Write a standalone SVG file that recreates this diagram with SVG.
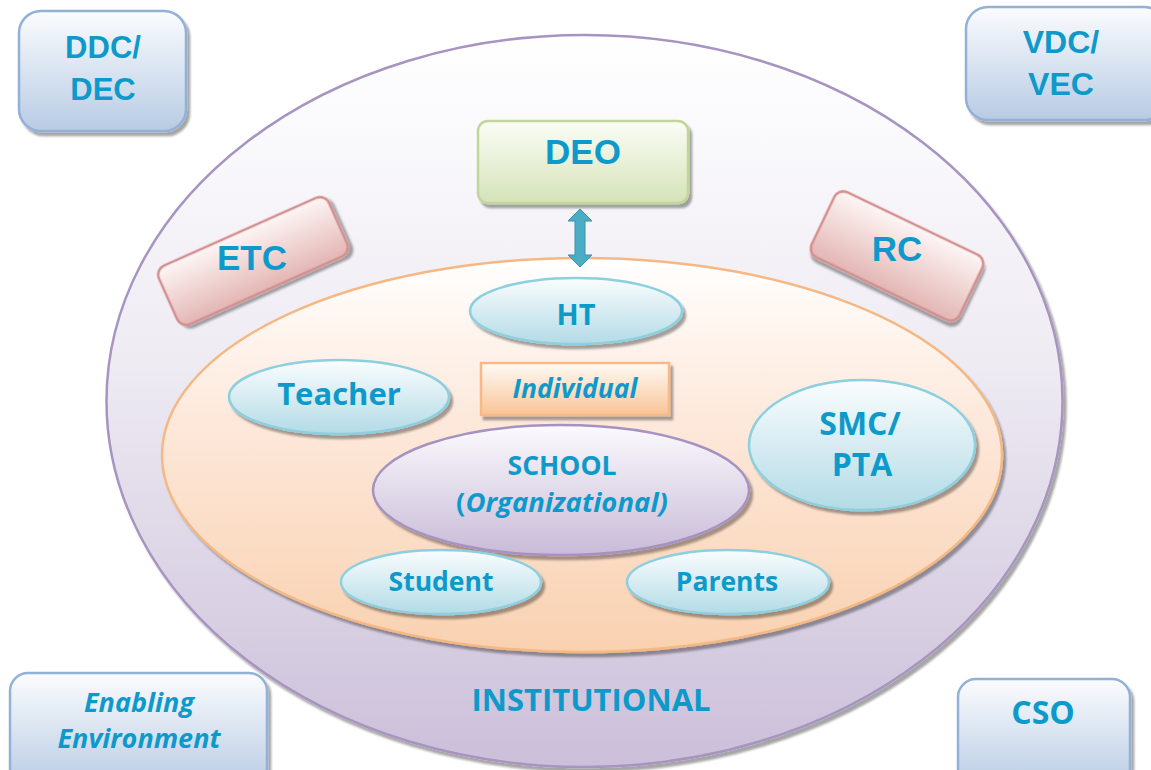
<svg xmlns="http://www.w3.org/2000/svg" width="1151" height="770" viewBox="0 0 1151 770">
<defs>
<linearGradient id="gOuter" x1="0" y1="0" x2="0" y2="1"><stop offset="0" stop-color="#ffffff"/><stop offset="0.45" stop-color="#eeebf3"/><stop offset="1" stop-color="#cbbfd9"/></linearGradient>
<linearGradient id="gInner" x1="0" y1="0" x2="0" y2="1"><stop offset="0" stop-color="#ffffff"/><stop offset="0.4" stop-color="#fde9dc"/><stop offset="1" stop-color="#f9d1b0"/></linearGradient>
<linearGradient id="gBlue" x1="0" y1="0" x2="0" y2="1"><stop offset="0" stop-color="#fbfcfe"/><stop offset="1" stop-color="#b8cbe4"/></linearGradient>
<linearGradient id="gGreen" x1="0" y1="0" x2="0" y2="1"><stop offset="0" stop-color="#fbfdf6"/><stop offset="1" stop-color="#d5e3b8"/></linearGradient>
<linearGradient id="gRed" x1="0" y1="0" x2="0" y2="1"><stop offset="0" stop-color="#fdf6f5"/><stop offset="1" stop-color="#e3b6b4"/></linearGradient>
<linearGradient id="gTeal" x1="0" y1="0" x2="0" y2="1"><stop offset="0" stop-color="#fafdfe"/><stop offset="1" stop-color="#b3dbe6"/></linearGradient>
<linearGradient id="gLav" x1="0" y1="0" x2="0" y2="1"><stop offset="0" stop-color="#fbfafd"/><stop offset="1" stop-color="#c9bbd8"/></linearGradient>
<linearGradient id="gOrange" x1="0" y1="0" x2="0" y2="1"><stop offset="0" stop-color="#fffaf6"/><stop offset="1" stop-color="#f9c496"/></linearGradient>
<filter id="sh" x="-10%" y="-10%" width="130%" height="130%"><feDropShadow dx="3" dy="4" stdDeviation="1" flood-color="#000" flood-opacity="0.35"/></filter>
</defs>
<style>
.t{font-family:"Open Sans","DejaVu Sans",sans-serif;font-weight:bold;fill:#0d9acb;text-anchor:middle}
.a{font-family:"Liberation Sans",Arial,sans-serif;font-weight:bold;fill:#0d9acb;text-anchor:middle}
.i{font-style:italic}
.blue{fill:url(#gBlue);stroke:#93b1d6;stroke-width:2.5}
.teal{fill:url(#gTeal);stroke:#8ccfdf;stroke-width:2.5}
.red{fill:url(#gRed);stroke:#d4908e;stroke-width:2.5}
</style>

<g id="institutional">
<ellipse cx="584.5" cy="401" rx="478" ry="366" fill="url(#gOuter)" stroke="#a794c0" stroke-width="2.5" filter="url(#sh)"/>
<text class="t" x="591" y="711" font-size="31">INSTITUTIONAL</text>
</g>
<g id="individual-area">
<ellipse cx="582" cy="455" rx="420" ry="197" fill="url(#gInner)" stroke="#f6b882" stroke-width="2.5" filter="url(#sh)"/>
</g>

<g id="ddc">
<rect x="19" y="11" width="167" height="120" rx="22" class="blue" filter="url(#sh)"/>
<text class="a" x="103" y="58" font-size="31">DDC/</text>
<text class="a" x="103" y="100" font-size="31">DEC</text>
</g>
<g id="vdc">
<rect x="966" y="7" width="200" height="113" rx="22" class="blue" filter="url(#sh)"/>
<text class="a" x="1061" y="53" font-size="32">VDC/</text>
<text class="a" x="1061" y="95" font-size="32">VEC</text>
</g>
<g id="enabling">
<rect x="10" y="673" width="257" height="115" rx="18" class="blue" filter="url(#sh)"/>
<text class="t i" x="139" y="712" font-size="27">Enabling</text>
<text class="t i" x="139" y="748" font-size="27">Environment</text>
</g>
<g id="cso">
<rect x="958" y="679" width="172" height="110" rx="18" class="blue" filter="url(#sh)"/>
<text class="t" x="1043" y="724" font-size="32">CSO</text>
</g>

<g id="deo">
<rect x="478" y="121" width="210" height="82" rx="10" fill="url(#gGreen)" stroke="#c2d69a" stroke-width="2.5" filter="url(#sh)"/>
<text class="a" x="583" y="164" font-size="35">DEO</text>
</g>
<g id="etc">
<rect x="-93" y="-32" width="186" height="64" rx="10" class="red" filter="url(#sh)" transform="translate(253,261) rotate(-24)"/>
<text class="a" x="252" y="270" font-size="35">ETC</text>
</g>
<g id="rc">
<rect x="-82" y="-36" width="164" height="72" rx="10" class="red" filter="url(#sh)" transform="translate(897,256) rotate(25.6)"/>
<text class="a" x="897" y="261" font-size="35">RC</text>
</g>

<g id="connectors">
<path d="M580,209 L592,221 L585,221 L585,255 L592,255 L580,267 L568,255 L575,255 L575,221 L568,221 Z" fill="#4bacc6" stroke="#3b93ab" stroke-width="1"/>
</g>

<g id="ht">
<ellipse cx="576" cy="311" rx="106" ry="33" class="teal" filter="url(#sh)"/>
<text class="t" x="576" y="325" font-size="29">HT</text>
</g>
<g id="teacher">
<ellipse cx="339" cy="397" rx="110" ry="37" class="teal" filter="url(#sh)"/>
<text class="t" x="339" y="405" font-size="31">Teacher</text>
</g>
<g id="individual">
<rect x="481" y="363" width="188" height="52" fill="url(#gOrange)" stroke="#f8b986" stroke-width="2.5" filter="url(#sh)"/>
<text class="t i" x="575" y="398" font-size="26.5">Individual</text>
</g>
<g id="smc">
<ellipse cx="862" cy="445" rx="113" ry="65" class="teal" filter="url(#sh)"/>
<text class="t" x="860" y="435" font-size="32">SMC/</text>
<text class="t" x="862" y="476" font-size="32">PTA</text>
</g>
<g id="school">
<ellipse cx="561" cy="490" rx="188" ry="65" fill="url(#gLav)" stroke="#a692c1" stroke-width="2.5" filter="url(#sh)"/>
<text class="t" x="562" y="475" font-size="26.5">SCHOOL</text>
<text class="t" x="562" y="512" font-size="27.5">(<tspan font-style="italic">Organizational)</tspan></text>
</g>
<g id="student">
<ellipse cx="441" cy="582" rx="100" ry="32" class="teal" filter="url(#sh)"/>
<text class="t" x="441" y="591" font-size="26.5">Student</text>
</g>
<g id="parents">
<ellipse cx="728" cy="582" rx="101" ry="32" class="teal" filter="url(#sh)"/>
<text class="t" x="727" y="591" font-size="26.5">Parents</text>
</g>
</svg>
